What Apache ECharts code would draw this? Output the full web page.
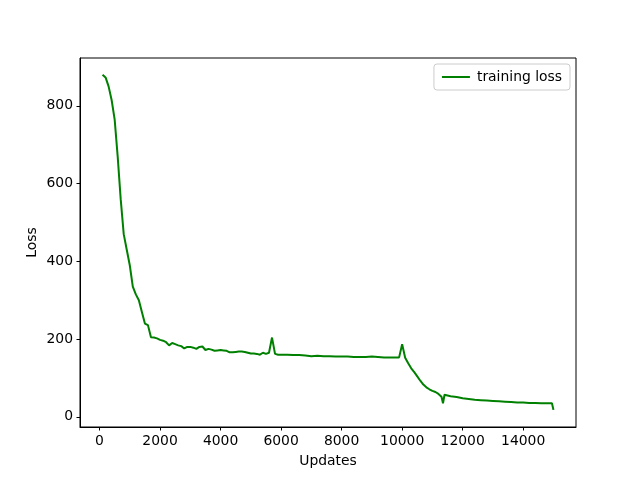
<!DOCTYPE html>
<html>
<head>
<meta charset="utf-8">
<script src="https://cdn.jsdelivr.net/npm/echarts@6/dist/echarts.min.js"></script>
<style>
  html, body { margin: 0; padding: 0; background: #fff; }
  #chart { width: 640px; height: 480px; }
</style>
</head>
<body>
<div id="chart"></div>
<script>
// updates (x) and training loss (y)
const updates = [100, 200, 300, 400, 500, 600, 700, 800, 900, 1000, 1100, 1200, 1300, 1400, 1500, 1600, 1700, 1800, 1900, 2000,
  2100, 2200, 2300, 2400, 2500, 2600, 2700, 2800, 2900, 3000, 3100, 3200, 3300, 3400, 3500, 3600, 3700, 3800, 3900, 4000,
  4100, 4200, 4300, 4400, 4500, 4600, 4700, 4800, 4900, 5000, 5100, 5200, 5300, 5400, 5500, 5600, 5700, 5800, 5900, 6000,
  6200, 6400, 6600, 6800, 7000, 7200, 7400, 7600, 7800, 8000, 8200, 8400, 8600, 8800, 9000, 9200, 9400, 9600, 9800, 9900,
  10000, 10100, 10200, 10300, 10400, 10500, 10600, 10700, 10800, 10900, 11000, 11100, 11200, 11300, 11350, 11400, 11600, 11800, 12000,
  12200, 12400, 12600, 12800, 13000, 13200, 13400, 13600, 13800, 14000, 14200, 14400, 14600, 14800, 14950, 15000];
const trainingLoss = [880, 873, 850, 815, 765, 670, 560, 470, 430, 390, 335, 315, 300, 270, 240, 236, 205, 204, 202, 198,
  196, 192, 184, 190, 187, 184, 182, 176, 180, 180, 178, 175, 180, 181, 172, 175, 173, 170, 171, 172,
  171, 170, 166, 166, 167, 168, 168, 167, 165, 163, 163, 162, 160, 165, 162, 165, 204, 162, 160, 160,
  160, 159, 159, 158, 156, 157, 156, 156, 155, 155, 155, 154, 154, 154, 155, 154, 153, 153, 153, 153,
  187, 152, 138, 125, 115, 104, 93, 83, 76, 71, 67, 64, 59, 52, 35, 57, 53, 51, 48,
  46, 44, 43, 42, 41, 40, 39, 38, 37, 37, 36, 36, 35, 35, 35, 18];
const xTicks = [0, 2000, 4000, 6000, 8000, 10000, 12000, 14000];
const yTicks = [0, 200, 400, 600, 800];

const font = 'DejaVu Sans';
const myChart = echarts.init(document.getElementById('chart'));

const option = {
  animation: false,
  backgroundColor: '#fff',
  textStyle: { fontFamily: font },
  grid: {
    left: 80, right: 64, top: 58, bottom: 53,
    show: true, borderColor: '#000', borderWidth: 1
  },
  legend: {
    right: 70, top: 64,
    padding: [6, 8],
    itemWidth: 28, itemHeight: 2, itemGap: 10,
    icon: 'rect',
    borderColor: '#ccc', borderWidth: 1, borderRadius: 3,
    backgroundColor: '#fff',
    textStyle: { fontFamily: font, fontSize: 13.9, color: '#000', padding: [0, 0, 0, 2] },
    data: ['training loss']
  },
  xAxis: {
    type: 'value',
    min: -645, max: 15745,
    name: 'Updates', nameLocation: 'middle', nameGap: 27, nameMoveOverlap: false,
    nameTextStyle: { fontFamily: font, fontSize: 13.9, color: '#000' },
    axisLine: { show: true, onZero: false, lineStyle: { color: '#000', width: 1 } },
    axisTick: { show: true, length: 3.5, inside: false, customValues: xTicks, lineStyle: { color: '#000' } },
    axisLabel: { customValues: xTicks, margin: 7, fontFamily: font, fontSize: 13.9, color: '#000',
      formatter: v => String(v) },
    splitLine: { show: false }
  },
  yAxis: {
    type: 'value',
    min: -26, max: 923,
    name: 'Loss', nameLocation: 'middle', nameGap: 41, nameMoveOverlap: false,
    nameTextStyle: { fontFamily: font, fontSize: 13.9, color: '#000' },
    axisLine: { show: true, onZero: false, lineStyle: { color: '#000', width: 1 } },
    axisTick: { show: true, length: 3.5, inside: false, customValues: yTicks, lineStyle: { color: '#000' } },
    axisLabel: { customValues: yTicks, margin: 7, fontFamily: font, fontSize: 13.9, color: '#000',
      formatter: v => String(v) },
    splitLine: { show: false }
  },
  series: [{
    name: 'training loss',
    type: 'line',
    data: updates.map((u, i) => [u, trainingLoss[i]]),
    showSymbol: false,
    symbol: 'none',
    color: '#008000',
    lineStyle: { color: '#008000', width: 2 }
  }]
};
myChart.setOption(option);
</script>
</body>
</html>
